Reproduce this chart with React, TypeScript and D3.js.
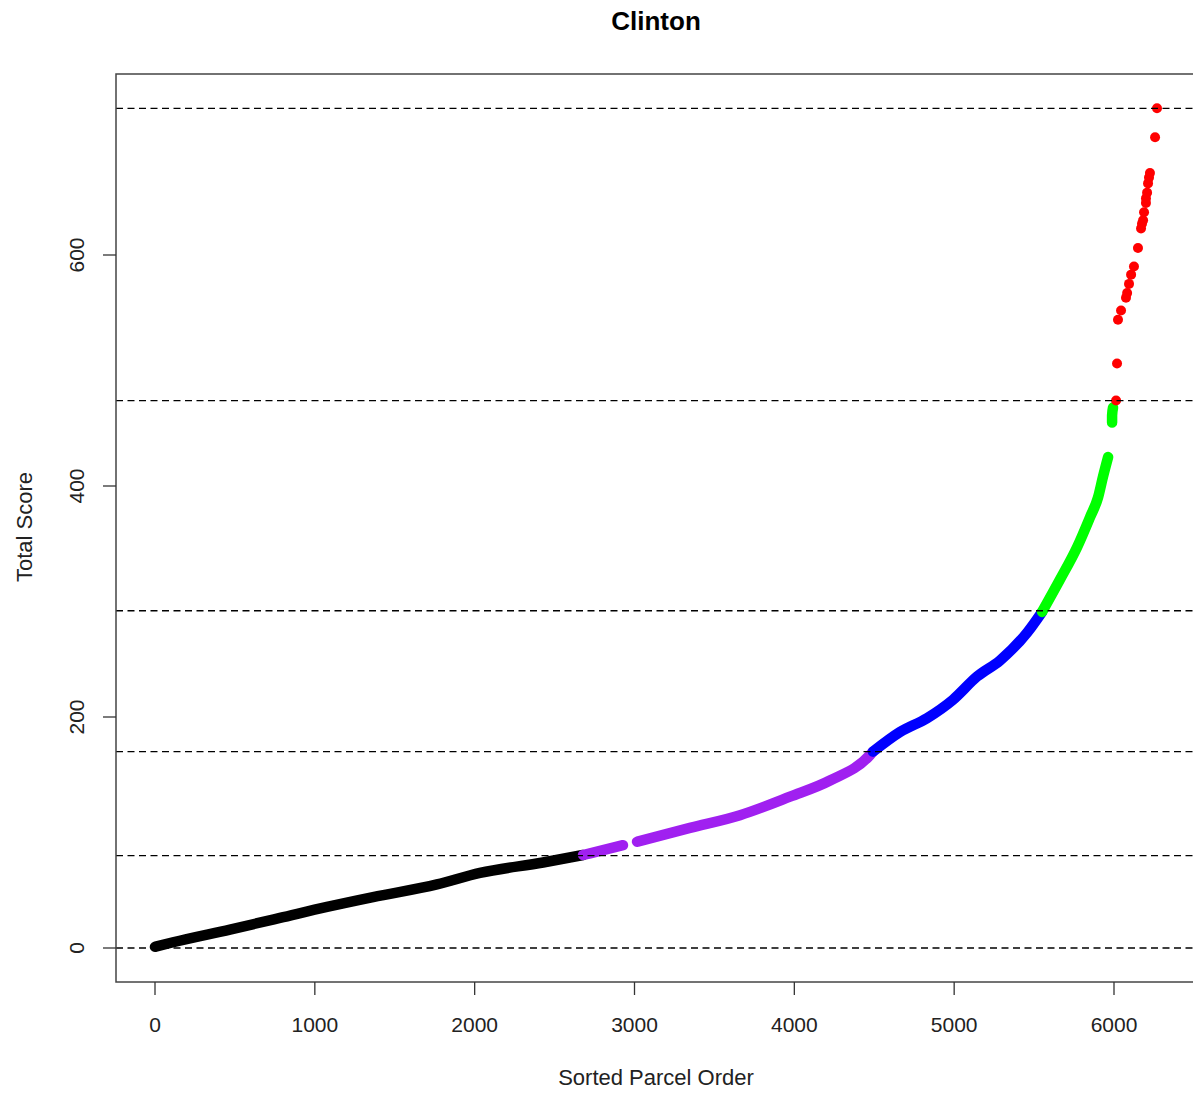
import * as d3 from 'd3';

// Score thresholds drawn as dashed horizontal lines
const thresholds = [0, 80, 170, 292, 474, 727];
const xTicks = [0, 1000, 2000, 3000, 4000, 5000, 6000];
const yTicks = [0, 200, 400, 600];

// Dense runs of points: [sorted order, total score]
const blackRun: [number, number][] = [
  [0, 1], [113, 5], [469, 16], [782, 26], [1076, 35.5], [1364, 44],
  [1764, 55], [2033, 65], [2428, 74], [2678, 80.5],
];
const purpleRunA: [number, number][] = [
  [2678, 80.5], [2722, 82], [2928, 89],
];
const purpleRunB: [number, number][] = [
  [3016, 92], [3347, 104], [3660, 115], [3973, 131], [4223, 145], [4473, 167], [4492, 170],
];
const blueRun: [number, number][] = [
  [4492, 170], [4661, 187], [4830, 199], [4993, 215], [5143, 235],
  [5287, 249], [5456, 273], [5550, 291],
];
const greenRunA: [number, number][] = [
  [5550, 291], [5662, 319], [5769, 347], [5850, 373], [5900, 390], [5931, 408], [5963, 425],
];
const greenRunB: [number, number][] = [
  [5988, 455], [5988, 461], [5994, 468],
];
// Sparse top parcels
const redPoints: [number, number][] = [
  [6013, 474], [6019, 506], [6025, 544], [6044, 552], [6075, 563], [6082, 567],
  [6094, 575], [6107, 583], [6125, 590], [6150, 606], [6169, 623], [6175, 627],
  [6182, 630], [6188, 637], [6200, 645], [6200, 649], [6207, 654], [6213, 662],
  [6219, 667], [6225, 671], [6257, 702], [6269, 727],
];

const runs: { pts: [number, number][]; color: string }[] = [
  { pts: blackRun, color: '#000000' },
  { pts: purpleRunA, color: '#A020F0' },
  { pts: purpleRunB, color: '#A020F0' },
  { pts: blueRun, color: '#0000FF' },
  { pts: greenRunA, color: '#00FF00' },
  { pts: greenRunB, color: '#00FF00' },
];

const W = 1193;
const H = 1093;
const box = { left: 116, top: 74, bottom: 982, right: 1260 };
const font = 'Arial, "Liberation Sans", Helvetica, sans-serif';

export default function App() {
  const x = d3.scaleLinear().domain([0, 6000]).range([155, 1114]);
  const y = d3.scaleLinear().domain([0, 600]).range([948, 255]);
  const line = d3
    .line<[number, number]>()
    .x((d) => x(d[0]))
    .y((d) => y(d[1]))
    .curve(d3.curveMonotoneX);

  return (
    <div style={{ position: 'absolute', left: 0, top: 0 }}>
      <svg width={W} height={H} style={{ display: 'block', background: '#fff' }} fontFamily={font}>
        <defs>
          <clipPath id="plotclip">
            <rect x={box.left} y={box.top} width={box.right - box.left} height={box.bottom - box.top} />
          </clipPath>
        </defs>

        {/* Title */}
        <text x={656} y={30} textAnchor="middle" fontSize={26} fontWeight="bold" fill="#000">
          Clinton
        </text>

        {/* Points */}
        <g clipPath="url(#plotclip)">
          {runs.map((r, i) => (
            <path
              key={i}
              d={line(r.pts) ?? ''}
              fill="none"
              stroke={r.color}
              strokeWidth={10.5}
              strokeLinecap="round"
              strokeLinejoin="round"
            />
          ))}
          {redPoints.map((p, i) => (
            <circle key={i} cx={x(p[0])} cy={y(p[1])} r={5} fill="#FF0000" />
          ))}

          {/* Threshold lines */}
          {thresholds.map((t) => (
            <line
              key={t}
              x1={box.left}
              x2={W}
              y1={y(t)}
              y2={y(t)}
              stroke="#000"
              strokeWidth={1.3}
              strokeDasharray="7,4.5"
            />
          ))}
        </g>

        {/* Box */}
        <rect
          x={box.left}
          y={box.top}
          width={box.right - box.left}
          height={box.bottom - box.top}
          fill="none"
          stroke="#444"
          strokeWidth={1.5}
        />

        {/* X axis */}
        {xTicks.map((t) => (
          <g key={t}>
            <line x1={x(t)} x2={x(t)} y1={box.bottom} y2={box.bottom + 13} stroke="#333" strokeWidth={1.3} />
            <text x={x(t)} y={1032} textAnchor="middle" fontSize={21} fill="#222">
              {t}
            </text>
          </g>
        ))}
        <text x={656} y={1085} textAnchor="middle" fontSize={22} fill="#222">
          Sorted Parcel Order
        </text>

        {/* Y axis */}
        {yTicks.map((t) => (
          <g key={t}>
            <line x1={box.left - 13} x2={box.left} y1={y(t)} y2={y(t)} stroke="#333" strokeWidth={1.3} />
            <text
              transform={`translate(84,${y(t)}) rotate(-90)`}
              textAnchor="middle"
              fontSize={21}
              fill="#222"
            >
              {t}
            </text>
          </g>
        ))}
        <text transform="translate(32,527) rotate(-90)" textAnchor="middle" fontSize={22} fill="#222">
          Total Score
        </text>
      </svg>
    </div>
  );
}
